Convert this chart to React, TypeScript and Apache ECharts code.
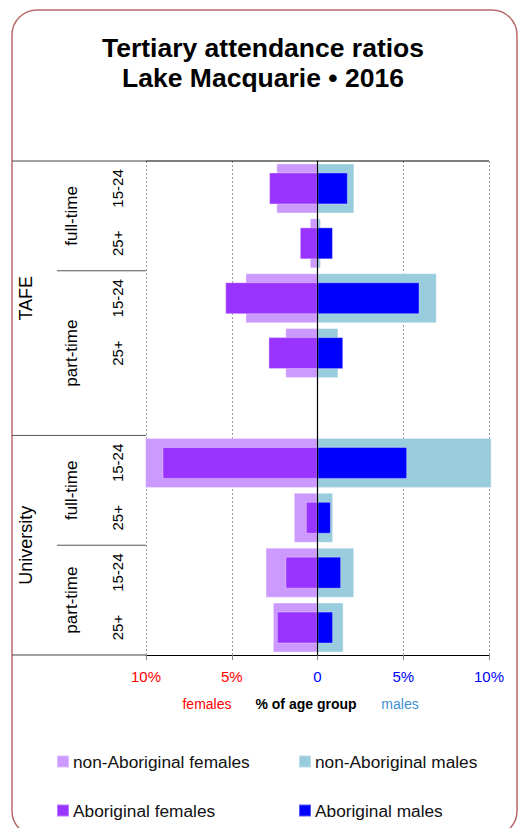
import React, { useEffect, useRef } from "react";
import * as echarts from "echarts";

const categories = [
  "TAFE|full-time|15-24",
  "TAFE|full-time|25+",
  "TAFE|part-time|15-24",
  "TAFE|part-time|25+",
  "gap",
  "University|full-time|15-24",
  "University|full-time|25+",
  "University|part-time|15-24",
  "University|part-time|25+",
];
const ageLabels = ["15-24", "25+", "15-24", "25+", "", "15-24", "25+", "15-24", "25+"];
const nonAboriginalFemales = [2.4, 0.45, 4.2, 1.88, null, 10.05, 1.38, 3.03, 2.6];
const nonAboriginalMales = [2.15, 0.2, 6.95, 1.22, null, 10.15, 0.91, 2.14, 1.52];
const aboriginalFemales = [2.82, 1.03, 5.38, 2.86, null, 9.04, 0.68, 1.87, 2.37];
const aboriginalMales = [1.77, 0.9, 5.95, 1.5, null, 5.23, 0.78, 1.38, 0.91];
const seriesNames = [
  "non-Aboriginal females",
  "non-Aboriginal males",
  "Aboriginal females",
  "Aboriginal males",
];
const seriesColors = ["#cc99ff", "#99ccdd", "#9933ff", "#0000ff"];
const titleLines = ["Tertiary attendance ratios", "Lake Macquarie • 2016"];

const FONT = "'Liberation Sans', Arial, sans-serif";

export default function App() {
  const ref = useRef<HTMLDivElement>(null);
  useEffect(() => {
    if (!ref.current) return;
    const chart = echarts.init(ref.current, null, { renderer: "svg" });
    const W = 526;
    const H = 828;
    const gridLeft = 146;
    const gridRight = 489;
    const gridTop = 161;
    const gridBottom = 655;
    const slot = (gridBottom - gridTop) / categories.length;
    const rowY = (i: number) => gridTop + (i + 0.5) * slot;
    const bY = (k: number) => gridTop + k * slot;

    const neg = (arr: (number | null)[]) => arr.map((v) => (v == null ? null : -v));

    const graphics: any[] = [];
    graphics.push({
      type: "rect",
      shape: { x: 12, y: 10, width: 505, height: 826, r: 25 },
      style: { fill: "none", stroke: "#b86b6b", lineWidth: 1.5 },
      silent: true,
    });
    titleLines.forEach((t, i) => {
      graphics.push({
        type: "text",
        x: 263,
        y: 48 + i * 30,
        style: {
          text: t,
          fontSize: 26.5,
          fontWeight: "bold",
          fontFamily: FONT,
          fill: "#000",
          align: "center",
          verticalAlign: "middle",
        },
        silent: true,
      });
    });
    const hLine = (x1: number, x2: number, y: number, color: string) => ({
      type: "line",
      shape: { x1, y1: y, x2, y2: y },
      style: { stroke: color, lineWidth: 1 },
      silent: true,
      z: 10,
    });
    graphics.push(hLine(12, gridLeft, bY(0), "#444"));
    graphics.push(hLine(gridLeft, gridRight, bY(0), "#000"));
    graphics.push(hLine(12, gridLeft, bY(5), "#555"));
    graphics.push(hLine(12, gridLeft, bY(9), "#444"));
    graphics.push(hLine(57, gridLeft, bY(2), "#555"));
    graphics.push(hLine(57, gridLeft, bY(7), "#555"));

    const vText = (text: string, x: number, y: number, size: number) => ({
      type: "text",
      x,
      y,
      rotation: Math.PI / 2,
      style: {
        text,
        fontSize: size,
        fontFamily: FONT,
        fill: "#000",
        align: "center",
        verticalAlign: "middle",
      },
      silent: true,
    });
    graphics.push(vText("TAFE", 26, (bY(0) + bY(5)) / 2, 18));
    graphics.push(vText("University", 26, (bY(5) + bY(9)) / 2, 18));
    graphics.push(vText("full-time", 71, (bY(0) + bY(2)) / 2, 17));
    graphics.push(vText("part-time", 71, (bY(2) + bY(5)) / 2, 17));
    graphics.push(vText("full-time", 71, (bY(5) + bY(7)) / 2, 17));
    graphics.push(vText("part-time", 71, (bY(7) + bY(9)) / 2, 17));
    ageLabels.forEach((t, i) => {
      if (t) graphics.push(vText(t, 117, rowY(i), 15));
    });

    const hText = (text: string, x: number, y: number, color: string, bold = false) => ({
      type: "text",
      x,
      y,
      style: {
        text,
        fontSize: 14,
        fontFamily: FONT,
        fontWeight: bold ? "bold" : "normal",
        fill: color,
        align: "center",
        verticalAlign: "middle",
      },
      silent: true,
    });
    graphics.push(hText("females", 207, 704, "#ff0000"));
    graphics.push(hText("% of age group", 306, 704, "#000", true));
    graphics.push(hText("males", 400, 704, "#3d8fd1"));

    const legendPos = [
      { left: 56, top: 753 },
      { left: 298, top: 753 },
      { left: 56, top: 802 },
      { left: 298, top: 802 },
    ];
    const legends = seriesNames.map((name, i) => ({
      data: [name],
      left: legendPos[i].left,
      top: legendPos[i].top,
      padding: 0,
      itemWidth: 12,
      itemHeight: 12,
      itemGap: 0,
      icon: "rect",
      selectedMode: false,
      textStyle: { fontSize: 17.3, fontFamily: FONT, color: "#111", padding: [0, 0, 0, -1] },
    }));

    const barBorder = { borderColor: "rgba(255,255,255,0.35)", borderWidth: 1 };

    chart.setOption({
      animation: false,
      backgroundColor: "#fff",
      legend: legends,
      grid: {
        left: gridLeft,
        right: W - gridRight,
        top: gridTop,
        bottom: H - gridBottom,
        containLabel: false,
      },
      xAxis: {
        type: "value",
        min: -10,
        max: 10,
        interval: 5,
        axisLine: { show: true, lineStyle: { color: "#000", width: 1 } },
        axisTick: { show: true, length: 5, lineStyle: { color: "#888" } },
        splitLine: { show: true, lineStyle: { color: "#999", type: [2, 2], width: 1 } },
        axisLabel: {
          margin: 14,
          fontSize: 15,
          fontFamily: FONT,
          formatter: (v: number) => (v === 0 ? "0" : Math.abs(v) + "%"),
          color: (v: any) => (Number(v) < 0 ? "#ff0000" : "#0000ff"),
        },
      },
      yAxis: [
        {
          type: "category",
          data: categories,
          inverse: true,
          z: 5,
          axisLine: { show: true, onZero: true, lineStyle: { color: "#000", width: 1.2 } },
          axisTick: { show: false },
          axisLabel: { show: false },
          splitLine: { show: false },
        },
        {
          type: "category",
          data: categories,
          inverse: true,
          show: false,
        },
      ],
      series: [
        {
          name: seriesNames[0],
          type: "bar",
          yAxisIndex: 0,
          stack: "nonAb",
          barWidth: 50,
          clip: false,
          data: neg(nonAboriginalFemales),
          itemStyle: { color: seriesColors[0], ...barBorder },
        },
        {
          name: seriesNames[1],
          type: "bar",
          yAxisIndex: 0,
          stack: "nonAb",
          barWidth: 50,
          clip: false,
          data: nonAboriginalMales,
          itemStyle: { color: seriesColors[1], ...barBorder },
        },
        {
          name: seriesNames[2],
          type: "bar",
          yAxisIndex: 1,
          stack: "ab",
          barWidth: 32,
          clip: false,
          data: neg(aboriginalFemales),
          itemStyle: { color: seriesColors[2], ...barBorder },
        },
        {
          name: seriesNames[3],
          type: "bar",
          yAxisIndex: 1,
          stack: "ab",
          barWidth: 32,
          clip: false,
          data: aboriginalMales,
          itemStyle: { color: seriesColors[3], ...barBorder },
        },
      ],
      graphic: graphics,
    });
    return () => chart.dispose();
  }, []);
  return (
    <div
      ref={ref}
      style={{ position: "fixed", left: 0, top: 0, width: 526, height: 828, background: "#fff" }}
    />
  );
}
